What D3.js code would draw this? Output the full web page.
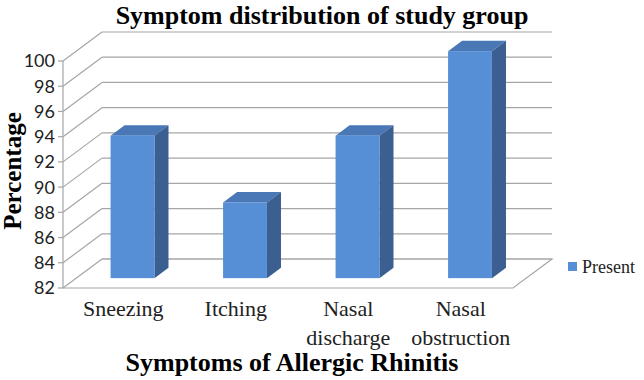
<!DOCTYPE html>
<html>
<head>
<meta charset="utf-8">
<script src="https://cdn.jsdelivr.net/npm/d3@7"></script>
<style>
  body { margin: 0; background: #fff; }
  svg { display: block; }
</style>
</head>
<body>
<div id="chart"></div>
<script>
// data
var categories = ["Sneezing", "Itching", "Nasal discharge", "Nasal obstruction"];
var catLines = [["Sneezing"], ["Itching"], ["Nasal", "discharge"], ["Nasal", "obstruction"]];
var present = [93.3, 88, 93.3, 100];
var yTicks = [82, 84, 86, 88, 90, 92, 94, 96, 98, 100];
var seriesName = "Present";

var W = 644, H = 380;
// front plane of the 3D box
var plotLeft = 63, plotRight = 513, plotBottom = 288, plotTop = 61;
var depthX = 39, depthY = -29;   // full depth of the floor
var barFront = 0.34, barBack = 0.70;  // bar depth as fraction of floor depth

var svg = d3.select("#chart").append("svg")
    .attr("width", W)
    .attr("height", H);

var x = d3.scaleBand()
    .domain(categories)
    .range([plotLeft, plotRight])
    .paddingInner(0.61)
    .paddingOuter(0.305);

var y = d3.scaleLinear()
    .domain([82, 100])
    .range([plotBottom, plotTop]);

var gridColor = "#a6a6a6";

// back wall gridlines
svg.append("g").selectAll("line.back")
    .data(yTicks)
    .enter().append("line")
    .attr("x1", plotLeft + depthX)
    .attr("x2", plotRight + depthX)
    .attr("y1", d => y(d) + depthY)
    .attr("y2", d => y(d) + depthY)
    .attr("stroke", gridColor)
    .attr("stroke-width", 1.2);

// side wall diagonals
svg.append("g").selectAll("line.side")
    .data(yTicks)
    .enter().append("line")
    .attr("x1", plotLeft)
    .attr("x2", plotLeft + depthX)
    .attr("y1", d => y(d))
    .attr("y2", d => y(d) + depthY)
    .attr("stroke", gridColor)
    .attr("stroke-width", 1.2);

// floor
svg.append("path")
    .attr("d", "M" + plotLeft + "," + plotBottom + "L" + plotRight + "," + plotBottom +
        "L" + (plotRight + depthX) + "," + (plotBottom + depthY) +
        "L" + (plotLeft + depthX) + "," + (plotBottom + depthY))
    .attr("fill", "none")
    .attr("stroke", gridColor)
    .attr("stroke-width", 1.2);

// vertical axis
svg.append("line")
    .attr("x1", plotLeft).attr("x2", plotLeft)
    .attr("y1", y(100)).attr("y2", y(82))
    .attr("stroke", gridColor)
    .attr("stroke-width", 1.2);

svg.append("g").selectAll("line.tick")
    .data(yTicks)
    .enter().append("line")
    .attr("x1", plotLeft - 5).attr("x2", plotLeft)
    .attr("y1", d => y(d)).attr("y2", d => y(d))
    .attr("stroke", gridColor)
    .attr("stroke-width", 1.2);

svg.append("g").selectAll("text.tick")
    .data(yTicks)
    .enter().append("text")
    .attr("x", plotLeft - 8)
    .attr("y", d => y(d))
    .attr("dy", "0.36em")
    .attr("text-anchor", "end")
    .style("font-family", "Lato, 'Open Sans', sans-serif")
    .style("font-size", "18px")
    .style("fill", "#222")
    .text(d => d);

// bars (front, top, side faces)
var fx0 = barFront * depthX, fy0 = barFront * depthY;
var bdx = (barBack - barFront) * depthX, bdy = (barBack - barFront) * depthY;

var bars = svg.append("g").selectAll("g.bar")
    .data(categories.map((c, i) => ({ cat: c, v: present[i] })))
    .enter().append("g");

bars.append("path")   // top
    .attr("d", function (d) {
        var x0 = x(d.cat) + fx0, x1 = x0 + x.bandwidth(), yt = y(d.v) + fy0;
        return "M" + x0 + "," + yt + "L" + x1 + "," + yt + "L" + (x1 + bdx) + "," + (yt + bdy) +
            "L" + (x0 + bdx) + "," + (yt + bdy) + "Z";
    })
    .attr("fill", "#4a77b6");

bars.append("path")   // side
    .attr("d", function (d) {
        var x1 = x(d.cat) + fx0 + x.bandwidth(), yt = y(d.v) + fy0, yb = y(82) + fy0;
        return "M" + x1 + "," + yt + "L" + (x1 + bdx) + "," + (yt + bdy) + "L" + (x1 + bdx) + "," + (yb + bdy) +
            "L" + x1 + "," + yb + "Z";
    })
    .attr("fill", "#3a5f90");

bars.append("rect")   // front
    .attr("x", d => x(d.cat) + fx0)
    .attr("y", d => y(d.v) + fy0)
    .attr("width", x.bandwidth())
    .attr("height", d => y(82) - y(d.v))
    .attr("fill", "#578fd6");

// category labels
var labels = svg.append("g").selectAll("text.cat")
    .data(categories)
    .enter().append("text")
    .attr("text-anchor", "middle")
    .attr("y", 316)
    .style("font-family", "'Liberation Serif', 'Times New Roman', serif")
    .style("font-size", "22px")
    .style("fill", "#222");

labels.each(function (d, i) {
    d3.select(this).selectAll("tspan")
        .data(catLines[i])
        .enter().append("tspan")
        .attr("x", x(d) + x.bandwidth() / 2 + 4)
        .attr("dy", (t, j) => j === 0 ? 0 : 29)
        .text(t => t);
});

// titles
svg.append("text")
    .attr("x", 322)
    .attr("y", 24)
    .attr("text-anchor", "middle")
    .style("font-family", "'Liberation Serif', 'Times New Roman', serif")
    .style("font-weight", "bold")
    .style("font-size", "26px")
    .text("Symptom distribution of study group");

svg.append("text")
    .attr("x", 292)
    .attr("y", 371)
    .attr("text-anchor", "middle")
    .style("font-family", "'Liberation Serif', 'Times New Roman', serif")
    .style("font-weight", "bold")
    .style("font-size", "26px")
    .text("Symptoms of Allergic Rhinitis");

svg.append("text")
    .attr("transform", "translate(21,171) rotate(-90)")
    .attr("text-anchor", "middle")
    .style("font-family", "'Liberation Serif', 'Times New Roman', serif")
    .style("font-weight", "bold")
    .style("font-size", "25px")
    .text("Percentage");

// legend
var legend = svg.append("g").attr("transform", "translate(568,262)");
legend.append("rect")
    .attr("width", 9).attr("height", 9)
    .attr("fill", "#578fd6");
legend.append("text")
    .attr("x", 14)
    .attr("y", 5)
    .attr("dy", "0.35em")
    .style("font-family", "'Liberation Serif', 'Times New Roman', serif")
    .style("font-size", "18px")
    .style("fill", "#222")
    .text(seriesName);
</script>
</body>
</html>
